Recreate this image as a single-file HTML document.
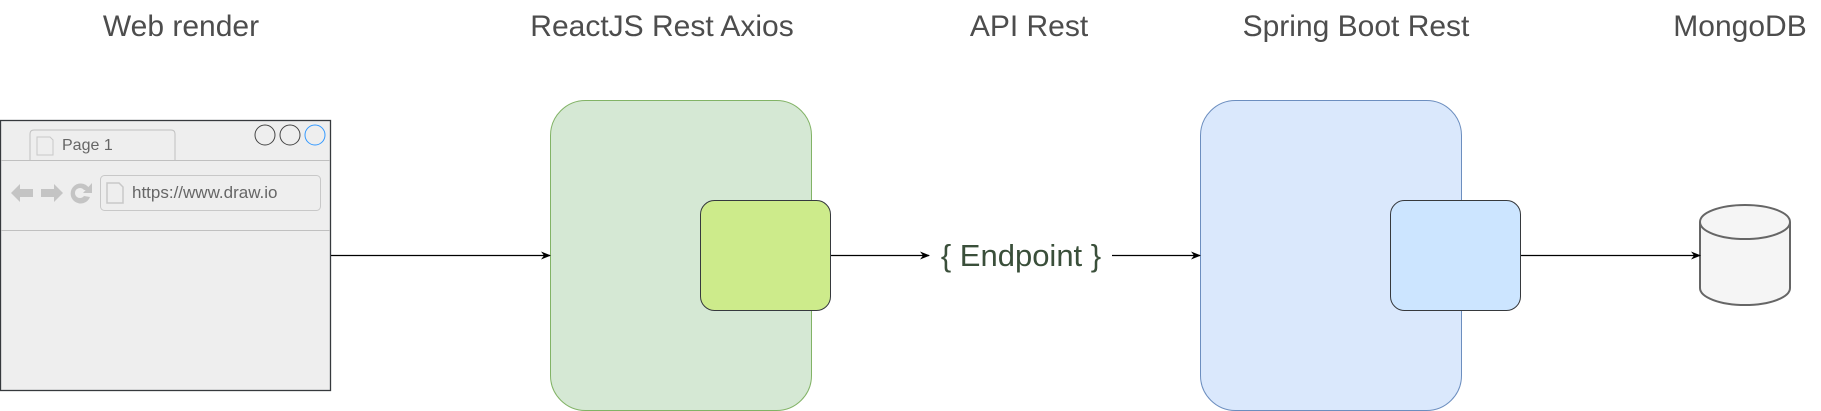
<!DOCTYPE html>
<html><head><style>
html,body{margin:0;padding:0;background:#fff;width:1821px;height:411px;overflow:hidden}
</style></head><body>
<svg width="1821" height="411" viewBox="0 0 1821 411" xmlns="http://www.w3.org/2000/svg" font-family="Liberation Sans, sans-serif">
<defs><marker id="a" markerWidth="10" markerHeight="10" refX="9" refY="5" orient="auto" markerUnits="userSpaceOnUse"><path d="M0,1 L10,5 L0,9 L3,5 Z" fill="#000"/></marker></defs>
<g fill="#4d4d4d" font-size="30" text-anchor="middle">
<text x="181" y="36">Web render</text>
<text x="662" y="36">ReactJS Rest Axios</text>
<text x="1029" y="36">API Rest</text>
<text x="1356" y="36">Spring Boot Rest</text>
<text x="1740" y="36">MongoDB</text>
</g>
<!-- browser -->
<rect x="0.5" y="120.5" width="330" height="270" fill="#eeeeee" stroke="#36393d" stroke-width="1.3"/>
<path d="M30,160 V134 Q30,130 34,130 H171 Q175,130 175,134 V160" fill="#eeeeee" stroke="#c0c0c0"/>
<line x1="1" y1="160.5" x2="330" y2="160.5" stroke="#c0c0c0"/>
<line x1="1" y1="230.5" x2="330" y2="230.5" stroke="#c0c0c0"/>
<path d="M37,137 H50 L53,140 V155 H37 Z" fill="none" stroke="#c8c8c8"/>
<text x="62" y="150" font-size="16" fill="#666">Page 1</text>
<circle cx="265" cy="135" r="10" fill="none" stroke="#444"/>
<circle cx="290" cy="135" r="10" fill="none" stroke="#444"/>
<circle cx="315" cy="135" r="10" fill="none" stroke="#3399ff"/>
<path d="M11,193 L20,184 V189 H33 V197 H20 V202 Z" fill="#c4c4c4"/>
<path d="M63,193 L54,184 V189 H41 V197 H54 V202 Z" fill="#c4c4c4"/>
<path d="M90,190 A10,10 0 1 0 90,197 L84,196 A5,5 0 1 1 84,190 Z" fill="#c4c4c4"/>
<path d="M92,183 V193 H83 Z" fill="#c4c4c4"/>
<rect x="100.5" y="175.5" width="220" height="35" rx="4" fill="#eeeeee" stroke="#c8c8c8"/>
<path d="M107,183 H119 L123,187 V203 H107 Z" fill="none" stroke="#c8c8c8" stroke-width="1.5"/>
<text x="132" y="198" font-size="17" fill="#666">https://www.draw.io</text>
<!-- green -->
<rect x="550.5" y="100.5" width="261" height="310" rx="35" fill="#d5e8d4" stroke="#82b366"/>
<rect x="700.5" y="200.5" width="130" height="110" rx="14" fill="#cdeb8b" stroke="#36393d"/>
<!-- blue -->
<rect x="1200.5" y="100.5" width="261" height="310" rx="35" fill="#dae8fc" stroke="#6c8ebf"/>
<rect x="1390.5" y="200.5" width="130" height="110" rx="14" fill="#cce5ff" stroke="#36393d"/>
<!-- cylinder -->
<path d="M1700,222 V288 A45,17 0 0 0 1790,288 V222" fill="#f5f5f5" stroke="#666" stroke-width="2"/>
<ellipse cx="1745" cy="222" rx="45" ry="17" fill="#f5f5f5" stroke="#666" stroke-width="2"/>
<!-- endpoint -->
<text x="1021" y="266" font-size="31" fill="#3a4f3a" text-anchor="middle">{ Endpoint }</text>
<!-- arrows -->
<g stroke="#000" stroke-width="1.3" fill="none">
<line x1="331" y1="255.5" x2="550" y2="255.5" marker-end="url(#a)"/>
<line x1="831" y1="255.5" x2="929" y2="255.5" marker-end="url(#a)"/>
<line x1="1112" y1="255.5" x2="1200" y2="255.5" marker-end="url(#a)"/>
<line x1="1521" y1="255.5" x2="1700" y2="255.5" marker-end="url(#a)"/>
</g>
</svg>
</body></html>
